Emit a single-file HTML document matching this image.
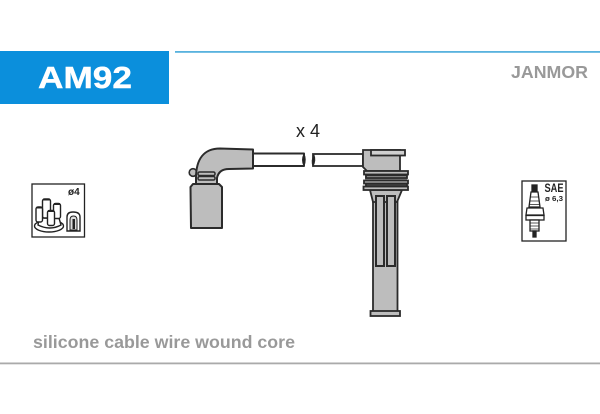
<!DOCTYPE html>
<html><head><meta charset="utf-8"><style>
html,body{margin:0;padding:0;background:#fff}
svg{display:block}
text{font-family:"Liberation Sans",sans-serif}
</style></head><body>
<svg width="600" height="414" viewBox="0 0 600 414" xmlns="http://www.w3.org/2000/svg">
<rect width="600" height="414" fill="#fff"/>
<rect x="0" y="51" width="169" height="53" fill="#0b8fdc"/>
<rect x="175" y="51" width="425" height="1.800" fill="#58b2de"/>
<text x="38" y="88" font-size="30.500" font-weight="700" fill="#fff" stroke="#fff" stroke-width="0.400" textLength="94" lengthAdjust="spacingAndGlyphs">AM92</text>
<text x="511" y="78" font-size="17.500" font-weight="700" fill="#999" textLength="77" lengthAdjust="spacingAndGlyphs">JANMOR</text>
<text x="33" y="348" font-size="17.500" font-weight="700" fill="#999" textLength="262" lengthAdjust="spacingAndGlyphs">silicone cable wire wound core</text>
<rect x="0" y="362.500" width="600" height="1.800" fill="#aaa"/>
<text x="296" y="137" font-size="18" fill="#222">x 4</text>

<!-- left boot -->
<g stroke="#2b2b2b" stroke-width="2" stroke-linejoin="round">
<rect x="253" y="153.500" width="51" height="12.500" fill="#fff"/>
<path d="M304 154q2.500 5.500 0 12q-3-6 0-12z" fill="#222" stroke-width="1"/>
<circle cx="193" cy="172.500" r="3.800" fill="#bdbdbd" stroke-width="1.600"/>
<path d="M196 178C196 159 204 148.500 220 148.500L253 149.500L253 168.500L229 169C221 169 218 173 217 178L217 187L196 187Z" fill="#bdbdbd"/>
<rect x="198" y="172" width="17" height="3.500" rx="1.500" fill="#bdbdbd" stroke-width="1.500"/>
<rect x="198" y="176.500" width="17" height="3.500" rx="1.500" fill="#bdbdbd" stroke-width="1.500"/>
<path d="M193 184L219 184L222 187L222 228L191 228L190.500 187Z" fill="#bdbdbd"/>
</g>

<!-- right boot -->
<g stroke="#2b2b2b" stroke-width="1.800" stroke-linejoin="miter">
<rect x="313" y="154" width="50" height="12" fill="#fff"/>
<path d="M314 155q-3 5.500-1 11q3-5.500 1-11z" fill="#222" stroke-width="1"/>
<path d="M363 150L400 150L400 171L367 171L363 167Z" fill="#bdbdbd"/>
<rect x="371" y="150" width="34" height="5.500" fill="#cfcfcf"/>
<rect x="373" y="197" width="24.500" height="116" fill="#bdbdbd"/>
<path d="M370 190L402 190L397 202L373 202Z" fill="#bdbdbd"/>
<rect x="365" y="174" width="42" height="13" fill="#8a8a8a" stroke="none"/>
<rect x="364" y="171" width="44" height="3.500" fill="#bdbdbd"/>
<rect x="366" y="175.500" width="41" height="2.500" fill="#bdbdbd"/>
<rect x="364" y="180.500" width="44" height="3" fill="#bdbdbd"/>
<rect x="366" y="184" width="41" height="2" fill="#bdbdbd"/>
<rect x="363.500" y="186.500" width="44.500" height="3.500" fill="#bdbdbd"/>
<rect x="376" y="196" width="8" height="70" fill="#bdbdbd" stroke-width="2"/>
<rect x="387" y="196" width="8" height="70" fill="#bdbdbd" stroke-width="2"/>
<rect x="370.500" y="311" width="29.500" height="5" fill="#bdbdbd"/>
</g>

<!-- distributor icon -->
<rect x="32" y="184" width="52.500" height="53" fill="#fff" stroke="#222" stroke-width="1.300"/>
<text x="68" y="195" font-size="10" font-weight="700" fill="#222">ø4</text>
<g stroke="#222" stroke-width="1.400" fill="#fff">
<ellipse cx="49" cy="226" rx="14.500" ry="6"/>
<path d="M38 225L39 218L59 218L61 225Q50 231 38 225Z"/>
<rect x="42.500" y="199" width="8" height="19" rx="2"/>
<rect x="53.500" y="203.500" width="7" height="15" rx="2"/>
<rect x="36" y="207" width="6.500" height="15" rx="2"/>
<rect x="47.500" y="210.500" width="7" height="15" rx="2"/>
<rect x="43" y="198.500" width="7" height="2" fill="#222" stroke="none"/>
<rect x="54" y="203" width="6" height="2" fill="#222" stroke="none"/>
<rect x="36.500" y="206.500" width="5.500" height="2" fill="#222" stroke="none"/>
<rect x="48" y="210" width="6" height="2" fill="#222" stroke="none"/>
<path d="M67 231L67 217Q67 212 73 212Q80 212 80 217L80 231Z"/>
<path d="M70 230L70 220Q70 216 73.500 216Q77 216 77 220L77 230Z" fill="#ddd" stroke-width="1"/>
<rect x="72.500" y="219" width="2.500" height="10" fill="#222" stroke="none"/>
</g>

<!-- spark plug icon -->
<rect x="522" y="181" width="44" height="60" fill="#fff" stroke="#222" stroke-width="1.300"/>
<text x="544.500" y="192" font-size="11.500" font-weight="700" fill="#222" textLength="19" lengthAdjust="spacingAndGlyphs">SAE</text>
<text x="545" y="201" font-size="7.500" font-weight="700" fill="#222" textLength="18" lengthAdjust="spacingAndGlyphs">ø 6,3</text>
<g stroke="#222" stroke-width="1.300" fill="#fff">
<rect x="532" y="185" width="5" height="7" fill="#222"/>
<path d="M531 192L538 192L540 207L529 207Z"/>
<path d="M530.500 197H538.500M530 201H539M529.500 204.500H539.500" fill="none" stroke-width="0.800"/>
<path d="M527 208L543 208L544 215L526 215Z"/>
<rect x="526" y="215.500" width="18" height="4.500"/>
<rect x="530" y="220" width="9" height="11"/>
<path d="M530 223H539M530 226H539M530 229H539" fill="none" stroke-width="0.800"/>
<rect x="533" y="231" width="3" height="6" fill="#222"/>
</g>
</svg>
</body></html>
